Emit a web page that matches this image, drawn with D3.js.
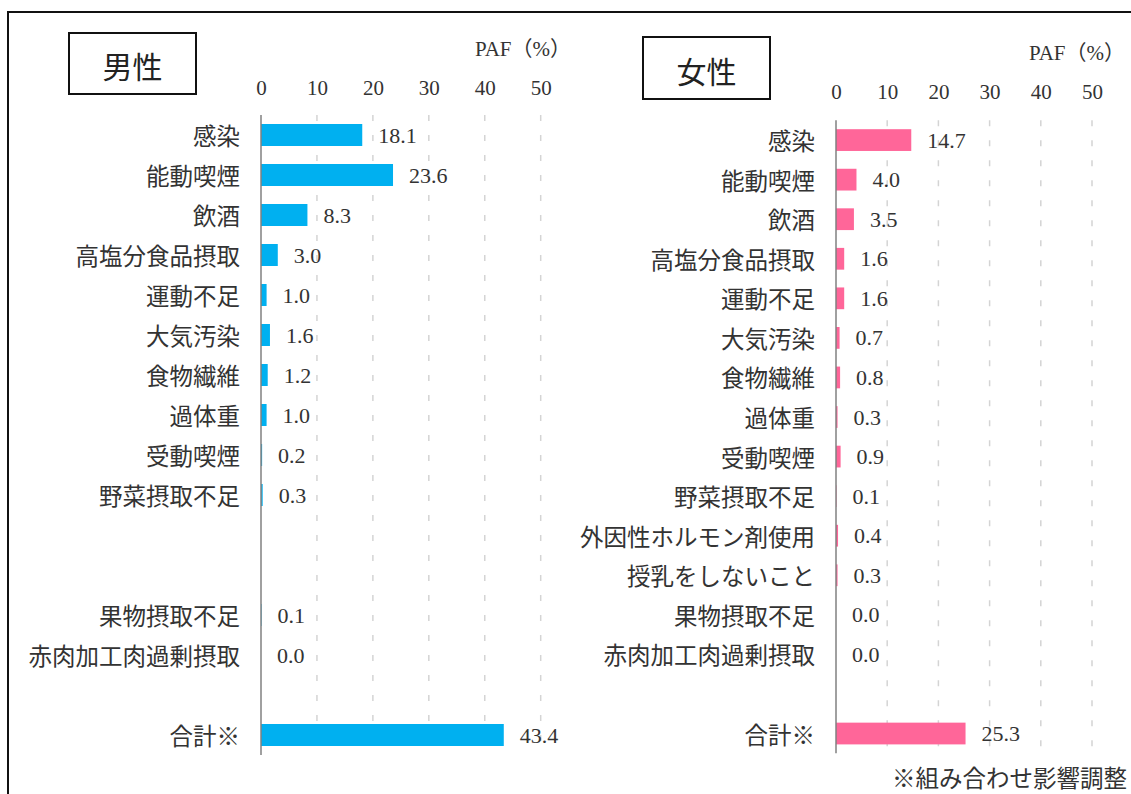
<!DOCTYPE html>
<html>
<head>
<meta charset="utf-8">
<script src="https://cdn.jsdelivr.net/npm/d3@7"></script>
<style>
  html, body { margin: 0; padding: 0; background: #fff; }
  svg { display: block; }
</style>
</head>
<body>
<div id="chart"></div>
<script>
// 行の並び（空欄は ''）
var maleCategories = ['感染', '能動喫煙', '飲酒', '高塩分食品摂取', '運動不足', '大気汚染', '食物繊維', '過体重',
    '受動喫煙', '野菜摂取不足', '', '', '果物摂取不足', '赤肉加工肉過剰摂取', '', '合計※'];
var maleValues = [18.1, 23.6, 8.3, 3.0, 1.0, 1.6, 1.2, 1.0, 0.2, 0.3, null, null, 0.1, 0.0, null, 43.4];

var femaleCategories = ['感染', '能動喫煙', '飲酒', '高塩分食品摂取', '運動不足', '大気汚染', '食物繊維', '過体重',
    '受動喫煙', '野菜摂取不足', '外因性ホルモン剤使用', '授乳をしないこと', '果物摂取不足', '赤肉加工肉過剰摂取', '', '合計※'];
var femaleValues = [14.7, 4.0, 3.5, 1.6, 1.6, 0.7, 0.8, 0.3, 0.9, 0.1, 0.4, 0.3, 0.0, 0.0, null, 25.3];

var tickValues = [0, 10, 20, 30, 40, 50];
var axisTitle = 'PAF（%）';
var footnote = '※組み合わせ影響調整';

var _width = 1131, _height = 794;
var fontNum = '"Liberation Serif", "Noto Sans CJK JP", serif';
var fontJp = '"Noto Sans CJK JP", sans-serif';
var fmt = d3.format('.1f');

var svg = d3.select('#chart').append('svg')
    .attr('width', _width)
    .attr('height', _height);

// 外枠
svg.append('rect')
    .attr('x', 8).attr('y', 12)
    .attr('width', 1300).attr('height', 900)
    .attr('fill', 'none')
    .attr('stroke', '#111')
    .attr('stroke-width', 2);

function drawPanel(conf) {
    var g = svg.append('g');
    var x = d3.scaleLinear().domain([0, 50]).range([conf.x0, conf.x50]);
    var y = d3.scaleBand()
        .domain(d3.range(conf.categories.length))
        .range([conf.yTop, conf.yBottom])
        .paddingInner(0.45)
        .paddingOuter(0.225);

    // タイトル枠
    g.append('rect')
        .attr('x', conf.box[0]).attr('y', conf.box[1])
        .attr('width', conf.box[2]).attr('height', conf.box[3])
        .attr('fill', '#fff')
        .attr('stroke', '#111')
        .attr('stroke-width', 2);
    g.append('text')
        .attr('x', conf.box[0] + conf.box[2] / 2)
        .attr('y', conf.box[1] + conf.box[3] / 2 + 1.5)
        .attr('text-anchor', 'middle')
        .attr('dominant-baseline', 'central')
        .attr('font-family', fontJp)
        .attr('font-size', 30)
        .attr('fill', '#222')
        .text(conf.title);

    // PAF（%）
    g.append('text')
        .attr('x', conf.paf[0]).attr('y', conf.paf[1])
        .attr('text-anchor', 'middle')
        .attr('dominant-baseline', 'central')
        .attr('font-family', fontNum)
        .attr('font-size', 21)
        .attr('fill', '#333')
        .text(axisTitle);

    // 目盛ラベル
    var axis = g.append('g')
        .attr('transform', 'translate(0,' + conf.tickY + ')')
        .call(d3.axisTop(x).tickValues(tickValues).tickSize(0).tickFormat(d3.format('d')));
    axis.select('.domain').remove();
    axis.selectAll('text')
        .attr('y', 0)
        .attr('dy', null)
        .attr('dominant-baseline', 'central')
        .attr('font-family', fontNum)
        .attr('font-size', 21)
        .attr('fill', '#333');

    // グリッド（破線）
    g.append('g').selectAll('line')
        .data(tickValues.filter(function (d) { return d > 0; }))
        .join('line')
        .attr('x1', function (d) { return x(d); })
        .attr('x2', function (d) { return x(d); })
        .attr('y1', conf.yTop)
        .attr('y2', conf.yBottom)
        .attr('stroke', '#d4d4d4')
        .attr('stroke-width', 1.5)
        .attr('stroke-dasharray', '6,14');

    var rows = conf.categories.map(function (c, i) {
        return { i: i, name: c, value: conf.values[i] };
    });

    // 棒
    g.append('g').selectAll('rect')
        .data(rows.filter(function (d) { return d.value != null; }))
        .join('rect')
        .attr('x', x(0))
        .attr('y', function (d) { return y(d.i); })
        .attr('width', function (d) { return x(d.value) - x(0); })
        .attr('height', y.bandwidth())
        .attr('fill', conf.color);

    // 縦軸
    g.append('line')
        .attr('x1', x(0)).attr('x2', x(0))
        .attr('y1', conf.yTop).attr('y2', conf.yBottom)
        .attr('stroke', '#808080')
        .attr('stroke-width', 1.5);

    // 項目名
    g.append('g').selectAll('text')
        .data(rows.filter(function (d) { return d.name !== ''; }))
        .join('text')
        .attr('x', x(0) - 21)
        .attr('y', function (d) { return y(d.i) + y.bandwidth() / 2; })
        .attr('text-anchor', 'end')
        .attr('dominant-baseline', 'central')
        .attr('font-family', fontJp)
        .attr('font-size', 23.5)
        .attr('fill', '#333')
        .text(function (d) { return d.name; });

    // 数値
    g.append('g').selectAll('text')
        .data(rows.filter(function (d) { return d.value != null; }))
        .join('text')
        .attr('x', function (d) { return x(d.value) + 16; })
        .attr('y', function (d) { return y(d.i) + y.bandwidth() / 2; })
        .attr('dominant-baseline', 'central')
        .attr('font-family', fontNum)
        .attr('font-size', 22)
        .attr('fill', '#333')
        .text(function (d) { return fmt(d.value); });
}

drawPanel({
    title: '男性',
    categories: maleCategories,
    values: maleValues,
    color: '#00B0F0',
    x0: 261, x50: 540.7,
    yTop: 115, yBottom: 755,
    tickY: 88,
    paf: [523, 49],
    box: [69, 33, 127, 61]
});

drawPanel({
    title: '女性',
    categories: femaleCategories,
    values: femaleValues,
    color: '#FF6699',
    x0: 836, x50: 1092,
    yTop: 120.3, yBottom: 753.3,
    tickY: 92,
    paf: [1077, 53],
    box: [643, 37, 127, 62]
});

svg.append('text')
    .attr('x', 1127)
    .attr('y', 777)
    .attr('text-anchor', 'end')
    .attr('dominant-baseline', 'central')
    .attr('font-family', fontJp)
    .attr('font-size', 23.5)
    .attr('fill', '#333')
    .text(footnote);
</script>
</body>
</html>
